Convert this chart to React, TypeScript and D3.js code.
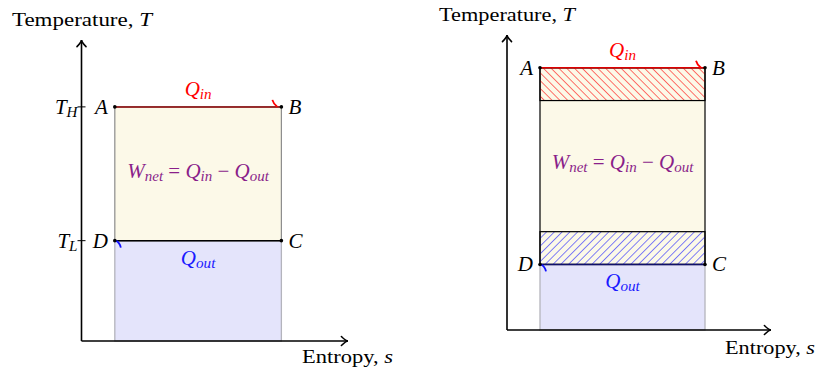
import React from "react";
import * as d3 from "d3";

// Entropy of the two vertical processes (A/D and B/C)
const entropyStates = [0.5, 3];
// Left panel: Carnot temperatures
const leftTemps = { high: 3.5, low: 1.5 };
// Right panel: temperatures and hatched heat bands
const rightTemps = { high: 4, low: 1 };
const redBand = [3.5, 4];
const blueBand = [1, 1.5];
const axisMax = { s: 4, T: 4.5 };

const FONT = "'Liberation Serif', 'DejaVu Serif', serif";

type PanelProps = {
  x0: number; x1: number; y0: number; y1: number;
  hatched: boolean; high: number; low: number;
  tempLabels: boolean;
  tLabel: [number, number, number]; sLabel: [number, number, number];
  idp: string;
};

function Arrow({ x1, y1, x2, y2 }: { x1: number; y1: number; x2: number; y2: number }) {
  const ang = Math.atan2(y2 - y1, x2 - x1);
  const L = 8, w = 0.6;
  const p = (a: number) => [x2 - L * Math.cos(ang + a), y2 - L * Math.sin(ang + a)];
  const [ax, ay] = p(w), [bx, by] = p(-w);
  return (
    <g stroke="#000" fill="none" strokeWidth={1.6}>
      <line x1={x1} y1={y1} x2={x2} y2={y2} />
      <path d={`M${ax},${ay} Q${x2 - 2 * Math.cos(ang)},${y2 - 2 * Math.sin(ang)} ${x2},${y2} Q${x2 - 2 * Math.cos(ang)},${y2 - 2 * Math.sin(ang)} ${bx},${by}`} strokeLinecap="round" />
    </g>
  );
}

function Sub({ x, y, main, sub, fill, size = 21, anchor = "middle" }: any) {
  return (
    <text x={x} y={y} fill={fill} fontFamily={FONT} fontStyle="italic" fontSize={size} textAnchor={anchor}>
      {main}
      <tspan fontSize={size * 0.72} dy={3}>{sub}</tspan>
    </text>
  );
}

function Panel(p: PanelProps) {
  const xs = d3.scaleLinear().domain([0, axisMax.s]).range([p.x0, p.x1]);
  const ys = d3.scaleLinear().domain([0, axisMax.T]).range([p.y0, p.y1]);
  const sa = xs(entropyStates[0]), sb = xs(entropyStates[1]);
  const yH = ys(p.high), yL = ys(p.low), y0 = ys(0);
  const cx = (sa + sb) / 2;
  const purple = "#8a1f8a";
  const sub = 15;
  return (
    <g>
      <defs>
        <pattern id={`nw${p.idp}`} patternUnits="userSpaceOnUse" width={5.5} height={5.5} patternTransform="rotate(-45)">
          <line x1={0} y1={0} x2={0} y2={5.5} stroke="#ff0000" strokeWidth={1.1} />
        </pattern>
        <pattern id={`ne${p.idp}`} patternUnits="userSpaceOnUse" width={5.5} height={5.5} patternTransform="rotate(45)">
          <line x1={0} y1={0} x2={0} y2={5.5} stroke="#1a1aff" strokeWidth={1.1} />
        </pattern>
      </defs>
      {/* blue rejected heat area */}
      <rect x={sa} y={yL} width={sb - sa} height={y0 - yL} fill="#e4e4fb" stroke="#b4b4bc" strokeWidth={1.3} />
      {/* net work area */}
      <rect x={sa} y={yH} width={sb - sa} height={yL - yH} fill="#fcf9e8" stroke={p.hatched ? "#000" : "#8c8c8c"} strokeWidth={1.2} />
      {p.hatched && (
        <>
          <rect x={sa} y={ys(redBand[1])} width={sb - sa} height={ys(redBand[0]) - ys(redBand[1])} fill={`url(#nw${p.idp})`} stroke="#000" strokeWidth={1.2} />
          <rect x={sa} y={ys(blueBand[1])} width={sb - sa} height={ys(blueBand[0]) - ys(blueBand[1])} fill={`url(#ne${p.idp})`} stroke="#000" strokeWidth={1.2} />
        </>
      )}
      <line x1={sa} y1={yH} x2={sb} y2={yH} stroke={p.hatched ? "#e00000" : "#8b0000"} strokeWidth={1.5} />
      <line x1={sa} y1={yL} x2={sb} y2={yL} stroke={p.hatched ? "#10106a" : "#000"} strokeWidth={1.5} />
      {/* small arcs */}
      <path d={`M${sb - 9},${yH - 7} Q${sb - 8},${yH - 3} ${sb - 4},${yH}`} stroke="#f00" fill="none" strokeWidth={1.8} />
      <path d={`M${sa + 6},${yL + 7} Q${sa + 5},${yL + 2} ${sa + 1},${yL}`} stroke="#1010ff" fill="none" strokeWidth={1.8} />
      {/* points */}
      {[[sa, yH], [sb, yH], [sb, yL], [sa, yL]].map(([x, y], i) => (
        <circle key={i} cx={x} cy={y} r={1.8} fill="#000" />
      ))}
      <Arrow x1={p.x0} y1={y0} x2={p.x0} y2={p.y1} />
      <Arrow x1={p.x0} y1={y0} x2={p.x1} y2={y0} />
      {p.tempLabels && (
        <>
          <line x1={p.x0 - 4} x2={p.x0 + 4} y1={yH} y2={yH} stroke="#000" strokeWidth={1} />
          <line x1={p.x0 - 4} x2={p.x0 + 4} y1={yL} y2={yL} stroke="#000" strokeWidth={1} />
          <Sub x={p.x0 - 4} y={yH + 7} main="T" sub="H" fill="#000" anchor="end" />
          <Sub x={p.x0 - 4} y={yL + 7} main="T" sub="L" fill="#000" anchor="end" />
        </>
      )}
      <g fontFamily={FONT} fontStyle="italic" fontSize={21} fill="#000">
        <text x={sa - 7} y={yH + 7} textAnchor="end">A</text>
        <text x={sb + 7} y={yH + 7}>B</text>
        <text x={sb + 7} y={yL + 7}>C</text>
        <text x={sa - 7} y={yL + 7} textAnchor="end">D</text>
      </g>
      <Sub x={cx} y={yH - 11} main="Q" sub="in" fill="#ff0000" />
      <Sub x={cx} y={yL + 24} main="Q" sub="out" fill="#1a1aff" />
      <text x={cx} y={p.hatched ? (ys(redBand[0]) + ys(blueBand[1])) / 2 + 3 : (yH + yL) / 2 + 4} fill={purple} fontFamily={FONT} fontStyle="italic" fontSize={21} textAnchor="middle">
        W<tspan fontSize={sub} dy={3}>net</tspan>
        <tspan dy={-3} fontStyle="normal"> = </tspan>Q<tspan fontSize={sub} dy={3}>in</tspan>
        <tspan dy={-3} fontStyle="normal"> − </tspan>Q<tspan fontSize={sub} dy={3}>out</tspan>
      </text>
      <text x={p.tLabel[0]} y={p.tLabel[1]} fontFamily={FONT} fontSize={19} fill="#000" textLength={p.tLabel[2]} lengthAdjust="spacingAndGlyphs">
        Temperature, <tspan fontStyle="italic">T</tspan>
      </text>
      <text x={p.sLabel[0]} y={p.sLabel[1]} fontFamily={FONT} fontSize={19} fill="#000" textLength={p.sLabel[2]} lengthAdjust="spacingAndGlyphs">
        Entropy, <tspan fontStyle="italic">s</tspan>
      </text>
    </g>
  );
}

export default function App() {
  return (
    <svg width={816} height={371} style={{ position: "absolute", left: 0, top: 0, background: "#fff" }}>
      <Panel idp="L" x0={81.5} x1={348} y0={341} y1={40} hatched={false}
        high={leftTemps.high} low={leftTemps.low} tempLabels={true}
        tLabel={[12, 26, 140]} sLabel={[302, 363, 91]} />
      <Panel idp="R" x0={507} x1={771} y0={330} y1={35} hatched={true}
        high={rightTemps.high} low={rightTemps.low} tempLabels={false}
        tLabel={[439, 21, 136]} sLabel={[725, 354, 90]} />
    </svg>
  );
}
